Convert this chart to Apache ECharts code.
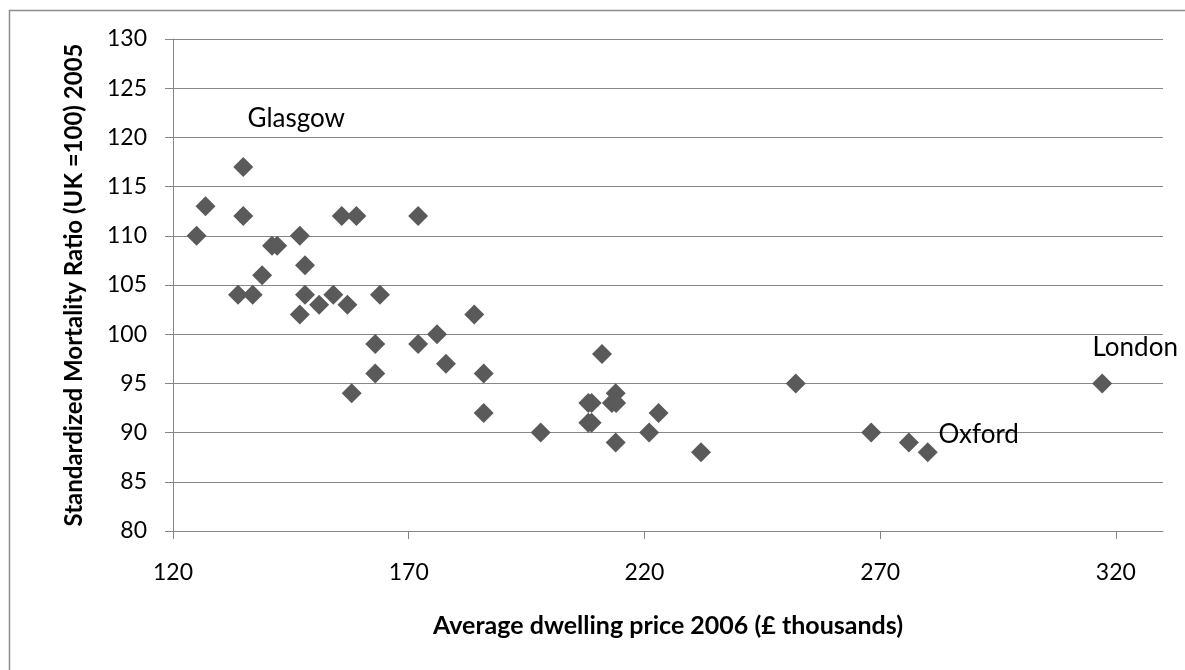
<!DOCTYPE html>
<html>
<head>
<meta charset="utf-8">
<title>Mortality vs dwelling price</title>
<script src="https://cdn.jsdelivr.net/npm/echarts@6/dist/echarts.min.js"></script>
<style>
  html, body { margin: 0; padding: 0; background: #fff; }
  #chart { width: 1185px; height: 670px; }
</style>
</head>
<body>
<div id="chart"></div>
<script>
// average dwelling price 2006 (£ thousands)
const priceList = [
  125, 126.9, 134.9, 134.9, 133.8, 136.9, 138.9, 141, 142.1, 146.9,
  148, 148, 146.9, 151, 154, 157, 155.8, 158.9, 163.9, 172,
  183.9, 176, 162.9, 162.9, 157.9, 172, 177.9, 185.9, 185.9, 211,
  198, 208.1, 208.8, 208.1, 208.8, 213.9, 213.1, 214, 213.9, 223,
  221, 232, 252.1, 268.1, 276.1, 280.1, 317.1
];
// standardized mortality ratio 2005 (UK = 100)
const smrList = [
  110, 113, 117, 112, 104, 104, 106, 109, 109, 110,
  107, 104, 102, 103, 104, 103, 112, 112, 104, 112,
  102, 100, 99, 96, 94, 99, 97, 96, 92, 98,
  90, 93, 93, 91, 91, 94, 93, 93, 89, 92,
  90, 88, 95, 90, 89, 88, 95
];
// named points: index into the lists above
const cityIndex = [2, 45, 46];
const cityNames = ['Glasgow', 'Oxford', 'London'];
const xTicks = [120, 170, 220, 270, 320];

const FONT = 'Lato';
const textColor = '#000000';
const lineColor = '#868686';
// label offsets from the marker centre, in pixels
const labelOffsets = [[53, -48], [51, -18], [33, -36]];

const seriesData = priceList.map(function (p, i) {
  const item = { value: [p, smrList[i]] };
  const k = cityIndex.indexOf(i);
  if (k >= 0) {
    item.label = {
      show: true,
      formatter: cityNames[k],
      position: 'inside',
      offset: labelOffsets[k],
      fontFamily: FONT,
      fontSize: 26,
      color: textColor
    };
  }
  return item;
});

const chart = echarts.init(document.getElementById('chart'));
chart.setOption({
  animation: false,
  backgroundColor: '#ffffff',
  graphic: [{
    type: 'rect',
    shape: { x: 9.5, y: 10.5, width: 1200, height: 700 },
    style: { fill: 'none', stroke: '#8c8c8c', lineWidth: 1.5 },
    silent: true
  }],
  grid: {
    left: 173,
    right: 22,
    top: 39,
    bottom: 139,
    containLabel: false
  },
  xAxis: {
    type: 'value',
    min: 120,
    max: 330,
    interval: 50,
    name: 'Average dwelling price 2006 (£ thousands)',
    nameLocation: 'middle',
    nameGap: 82,
    nameTextStyle: {
      fontFamily: FONT,
      fontSize: 25,
      fontWeight: 'bold',
      color: textColor
    },
    axisLine: { show: true, lineStyle: { color: lineColor, width: 1 } },
    axisTick: {
      show: true,
      inside: false,
      length: 8,
      customValues: xTicks,
      lineStyle: { color: lineColor }
    },
    axisLabel: {
      margin: 30,
      customValues: xTicks,
      fontFamily: FONT,
      fontSize: 23,
      color: textColor
    },
    splitLine: { show: false }
  },
  yAxis: {
    type: 'value',
    min: 80,
    max: 130,
    interval: 5,
    name: 'Standardized Mortality Ratio (UK =100) 2005',
    nameLocation: 'middle',
    nameGap: 87,
    nameTextStyle: {
      fontFamily: FONT,
      fontSize: 24,
      fontWeight: 'bold',
      color: textColor
    },
    axisLine: { show: true, lineStyle: { color: lineColor, width: 1 } },
    axisTick: {
      show: true,
      inside: false,
      length: 8,
      lineStyle: { color: lineColor }
    },
    axisLabel: {
      margin: 26,
      fontFamily: FONT,
      fontSize: 23,
      color: textColor
    },
    splitLine: { show: true, lineStyle: { color: lineColor, width: 1 } }
  },
  series: [{
    type: 'scatter',
    symbol: 'diamond',
    symbolSize: [20, 20],
    itemStyle: { color: '#5a5a5a', opacity: 1 },
    data: seriesData
  }]
});
</script>
</body>
</html>
